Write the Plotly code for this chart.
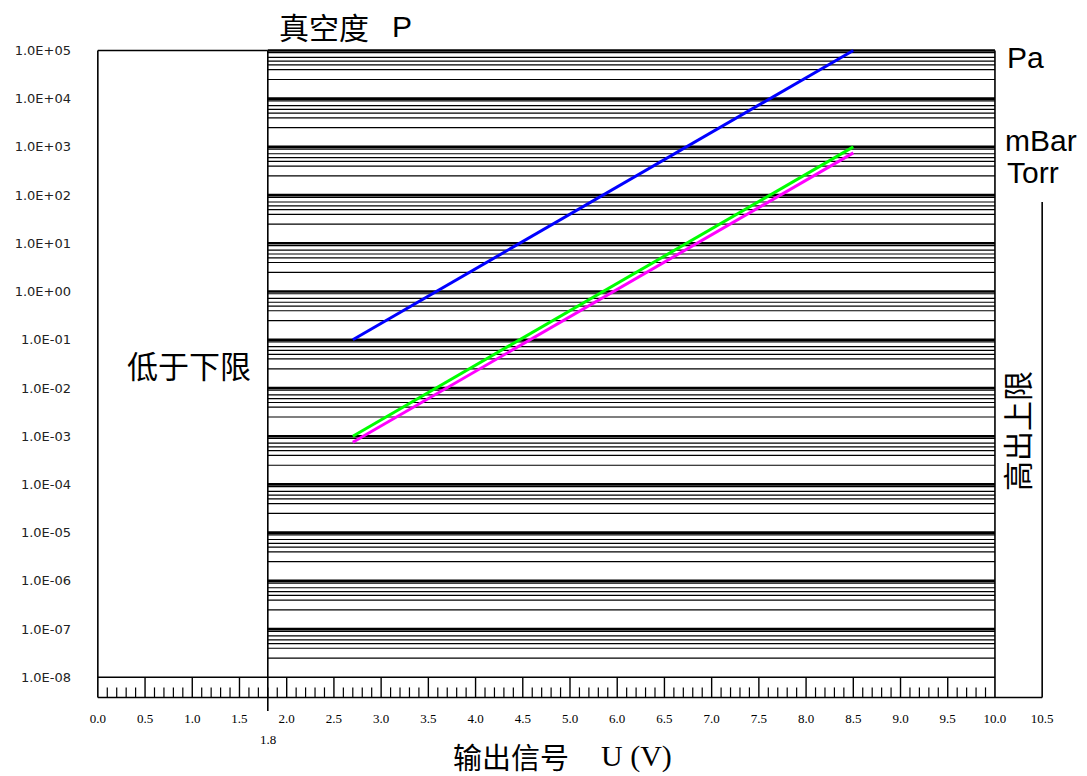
import plotly.graph_objects as go

# ---------------- data ----------------
# x positions on the drawn voltage scale (uniform label spacing of the original)
U_LINE = [2.7, 8.0]
P_PA = [1e-1, 1e5]
P_MBAR = [1e-3, 1e3]
P_TORR = [7.5e-4, 7.5e2]

X_TICK_POS = [0.0, 0.5, 1.0, 1.5, 2.0, 2.5, 3.0, 3.5, 4.0, 4.5, 5.0, 5.5, 6.0,
              6.5, 7.0, 7.5, 8.0, 8.5, 9.0, 9.5, 10.0]
X_TICK_TEXT = ["0.0", "0.5", "1.0", "1.5", "2.0", "2.5", "3.0", "3.5", "4.0", "4.5",
               "5.0", "6.0", "6.5", "7.0", "7.5", "8.0", "8.5", "9.0", "9.5", "10.0", "10.5"]
Y_TICK_VALS = [1e5, 1e4, 1e3, 1e2, 1e1, 1e0, 1e-1, 1e-2, 1e-3, 1e-4, 1e-5, 1e-6, 1e-7, 1e-8]
Y_TICK_TEXT = ["1.0E+05", "1.0E+04", "1.0E+03", "1.0E+02", "1.0E+01", "1.0E+00",
               "1.0E-01", "1.0E-02", "1.0E-03", "1.0E-04", "1.0E-05", "1.0E-06",
               "1.0E-07", "1.0E-08"]
MINOR_MULT = [9, 7.2, 6, 5, 4, 2.5]

# ---------------- geometry (styling constants) ----------------
X_LOW = 1.8          # lower-limit boundary
X_BOX = 9.5          # right edge of grid box
X_OUT = 10.0         # outer right line
Y_TOP = 1e5
Y_STRIP = 1e-8
Y_BOT = 10 ** -8.42
Y_MINOR_TICK = 10 ** -8.21
Y_RIGHT_LINE_TOP = 72

W, H = 1087, 776
ML, MR, MT, MB = 95, 42, 49, 77

fig = go.Figure()

# decade grid lines (thick)
xs, ys = [], []
for v in Y_TICK_VALS[:-1]:
    xs += [X_LOW, X_BOX, None]
    ys += [v, v, None]
fig.add_trace(go.Scatter(x=xs, y=ys, mode="lines", line=dict(color="black", width=2.6),
                         hoverinfo="skip", showlegend=False))

# minor grid lines
xs, ys = [], []
for v in Y_TICK_VALS[1:]:
    for m in MINOR_MULT:
        xs += [X_LOW, X_BOX, None]
        ys += [v * m, v * m, None]
fig.add_trace(go.Scatter(x=xs, y=ys, mode="lines", line=dict(color="black", width=1.2),
                         hoverinfo="skip", showlegend=False))

# frame
frame_x = [0, 0, None, 0, X_LOW, None, X_BOX, X_BOX, None, 0, X_OUT, None,
           X_OUT, X_OUT, None, 0, X_BOX, None]
frame_y = [Y_TOP, Y_BOT, None, Y_TOP, Y_TOP, None, Y_TOP, Y_BOT, None, Y_BOT, Y_BOT, None,
           Y_RIGHT_LINE_TOP, Y_BOT, None, Y_STRIP, Y_STRIP, None]
fig.add_trace(go.Scatter(x=frame_x, y=frame_y, mode="lines", line=dict(color="black", width=1.6),
                         hoverinfo="skip", showlegend=False))

# strip ticks
xs, ys = [], []
for i in range(1, 19):
    xv = i * 0.5
    xs += [xv, xv, None]
    ys += [Y_STRIP, Y_BOT, None]
fig.add_trace(go.Scatter(x=xs, y=ys, mode="lines", line=dict(color="black", width=1.4),
                         hoverinfo="skip", showlegend=False))
xs, ys = [], []
for i in range(1, 95):
    if i % 5 == 0:
        continue
    xv = i * 0.1
    xs += [xv, xv, None]
    ys += [Y_MINOR_TICK, Y_BOT, None]
fig.add_trace(go.Scatter(x=xs, y=ys, mode="lines", line=dict(color="black", width=1.2),
                         hoverinfo="skip", showlegend=False))

# data lines
fig.add_trace(go.Scatter(x=U_LINE, y=P_PA, mode="lines", name="Pa",
                         line=dict(color="#0000FF", width=3), showlegend=False))
fig.add_trace(go.Scatter(x=U_LINE, y=P_TORR, mode="lines", name="Torr",
                         line=dict(color="#FF00FF", width=3), showlegend=False))
fig.add_trace(go.Scatter(x=U_LINE, y=P_MBAR, mode="lines", name="mBar",
                         line=dict(color="#00FF00", width=3), showlegend=False))

# 1.8 V line (extends below the frame)
plot_h = H - MT - MB
fig.add_shape(type="line", xref="x", yref="paper", x0=X_LOW, x1=X_LOW,
              y0=(H - MB - 50.4) / plot_h, y1=-12 / plot_h,
              line=dict(color="black", width=1.6))


def px(xp):
    return (xp - ML) / (W - ML - MR)


def py(yp):
    return (H - MB - yp) / plot_h


cjk = "Noto Sans CJK SC"
ann = [
    dict(text="真空度", x=px(277), y=py(26), xanchor="left", yanchor="middle",
         font=dict(family=cjk, size=30)),
    dict(text="P", x=px(402), y=py(27), xanchor="center", yanchor="middle",
         font=dict(family="Liberation Sans", size=30)),
    dict(text="Pa", x=px(1005), y=py(57), xanchor="left", yanchor="middle",
         font=dict(family="Liberation Sans", size=30)),
    dict(text="mBar", x=px(1003), y=py(141), xanchor="left", yanchor="middle",
         font=dict(family="Liberation Sans", size=30)),
    dict(text="Torr", x=px(1005), y=py(172), xanchor="left", yanchor="middle",
         font=dict(family="Liberation Sans", size=30)),
    dict(text="低于下限", x=px(189), y=py(364), xanchor="center", yanchor="middle",
         font=dict(family=cjk, size=31)),
    dict(text="高出上限", x=px(1016), y=py(431), xanchor="center", yanchor="middle",
         textangle=-90, font=dict(family=cjk, size=30)),
    dict(text="输出信号", x=px(511), y=py(756), xanchor="center", yanchor="middle",
         font=dict(family=cjk, size=29)),
    dict(text="U (V)", x=px(636), y=py(756), xanchor="center", yanchor="middle",
         font=dict(family="Liberation Serif", size=30)),
    dict(text="1.8", x=px(268), y=py(739), xanchor="center", yanchor="middle",
         font=dict(family="Liberation Serif", size=13)),
]
for a in ann:
    fig.add_annotation(xref="paper", yref="paper", showarrow=False,
                       font_color="black", **a)

fig.update_layout(
    width=W, height=H,
    margin=dict(l=ML, r=MR, t=MT, b=MB),
    paper_bgcolor="white", plot_bgcolor="white",
    xaxis=dict(range=[-0.03, 10.03], showgrid=False, zeroline=False, showline=False,
               ticks="", tickvals=X_TICK_POS, ticktext=X_TICK_TEXT, ticklabelstandoff=10,
               tickfont=dict(family="Liberation Serif", size=13, color="black")),
    yaxis=dict(type="log", range=[-8.45, 5.03], showgrid=False, zeroline=False,
               showline=False, ticks="", tickvals=Y_TICK_VALS, ticktext=Y_TICK_TEXT,
               ticklabelstandoff=23,
               tickfont=dict(family="DejaVu Sans", size=13, color="#222")),
    showlegend=False,
)

fig.write_html("out.html", config={"displayModeBar": False},
               post_script="document.body.style.margin='0';")
